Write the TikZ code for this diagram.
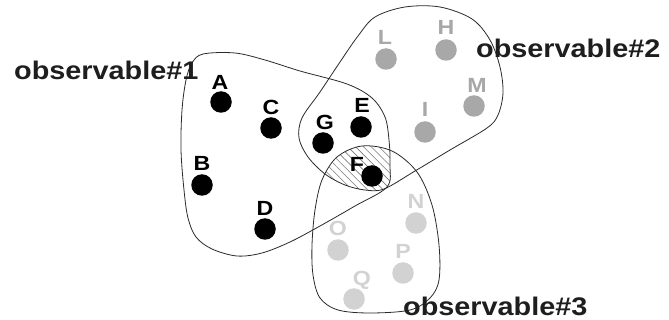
\documentclass[tikz,border=0pt]{standalone}
\usepackage{fontspec}
\usepackage{graphicx}
\setmainfont{Liberation Sans}
\usetikzlibrary{patterns.meta}
\definecolor{outl}{HTML}{2A2A2A}
\definecolor{gA}{HTML}{A8A8A8}
\definecolor{gB}{HTML}{D2D2D2}
\definecolor{txt}{HTML}{1E1E1E}
\definecolor{hatch}{HTML}{7A7A7A}
\newcommand{\wide}[1]{\scalebox{1.13}[1]{#1}}
\def\pathA{plot[smooth cycle,tension=0.55] coordinates {(203,54) (235,53) (265,60) (300,71) (347,84) (372,98) (385,117) (389,140) (390,165) (387,187) (355,206) (320,226) (290,242) (262,253) (237,256) (212,249) (196,237) (188,218) (184,190) (181,150) (182,110) (186,80) (192,63)}}
\def\pathB{plot[smooth cycle,tension=0.55] coordinates {(340,62) (358,36) (375,17) (405,7) (440,7) (472,19) (490,40) (500,67) (503,93) (498,115) (487,128) (450,150) (415,171) (384,189) (365,190) (345,185) (325,174) (308,157) (299,138) (302,118) (320,92)}}
\def\pathC{plot[smooth cycle,tension=0.55] coordinates {(362,146) (392,151) (417,172) (432,205) (439,245) (439,280) (430,298) (410,310) (370,313) (338,310) (320,298) (313,275) (312,245) (315,210) (322,180) (337,157)}}
\tikzset{
  outline/.style={draw=outl,line width=0.8pt},
  bigtxt/.style={font=\bfseries\fontsize{25.5}{25.5}\selectfont,text=txt,anchor=base west,inner sep=0pt},
  lbl/.style={font=\bfseries\fontsize{20.5}{20.5}\selectfont,anchor=base,inner sep=0pt},
  dotk/.style={circle,fill=black,minimum size=21.5pt,inner sep=0pt},
  dotg/.style={circle,fill=gA,minimum size=21.5pt,inner sep=0pt},
  dotl/.style={circle,fill=gB,minimum size=21.5pt,inner sep=0pt}
}
\begin{document}
\begin{tikzpicture}[x=1pt,y=-1pt]
\useasboundingbox[fill=white] (0,0) rectangle (669,320);
% hatched triple intersection
\begin{scope}
  \clip \pathA;
  \clip \pathB;
  \clip \pathC;
  \fill[pattern={Lines[angle=135,distance=5.5pt,line width=0.6pt]},pattern color=hatch] (300,130) rectangle (450,220);
\end{scope}
\draw[outline] \pathA;
\draw[outline] \pathB;
\draw[outline] \pathC;
% dots
\node[dotk] (A) at (221,102) {};
\node[dotk] (C) at (271,128) {};
\node[dotk] (G) at (323,143) {};
\node[dotk] (E) at (361,127) {};
\node[dotk] (B) at (202,185) {};
\node[dotk] (D) at (265,229) {};
\node[dotk] (F) at (372,176) {};
\node[dotg] (L) at (386,59) {};
\node[dotg] (H) at (446,50) {};
\node[dotg] (M) at (474,106) {};
\node[dotg] (I) at (425,132) {};
\node[dotl] (N) at (416,223) {};
\node[dotl] (O) at (338,250) {};
\node[dotl] (P) at (403,273) {};
\node[dotl] (Q) at (354,299) {};
% labels
\node[lbl,text=black] (lA) at (220,90) {\wide{A}};
\node[lbl,text=black] (lC) at (271,115) {\wide{C}};
\node[lbl,text=black] (lG) at (325,130) {\wide{G}};
\node[lbl,text=black] (lE) at (362,113) {\wide{E}};
\node[lbl,text=black] (lB) at (202,171) {\wide{B}};
\node[lbl,text=black] (lD) at (265,216) {\wide{D}};
\node[lbl,text=black] (lF) at (357,172) {\wide{F}};
\node[lbl,text=gA] (lL) at (385,45) {\wide{L}};
\node[lbl,text=gA] (lH) at (446,35) {\wide{H}};
\node[lbl,text=gA] (lM) at (477,93) {\wide{M}};
\node[lbl,text=gA] (lI) at (425,117) {\wide{I}};
\node[lbl,text=gB] (lN) at (416,209) {\wide{N}};
\node[lbl,text=gB] (lO) at (338,236) {\wide{O}};
\node[lbl,text=gB] (lP) at (403,259) {\wide{P}};
\node[lbl,text=gB] (lQ) at (362,286) {\wide{Q}};
% titles
\node[bigtxt] (t1) at (14,80) {\wide{observable\#1}};
\node[bigtxt] (t2) at (476,58) {\wide{observable\#2}};
\node[bigtxt] (t3) at (403,315) {\wide{observable\#3}};
\end{tikzpicture}
\end{document}
